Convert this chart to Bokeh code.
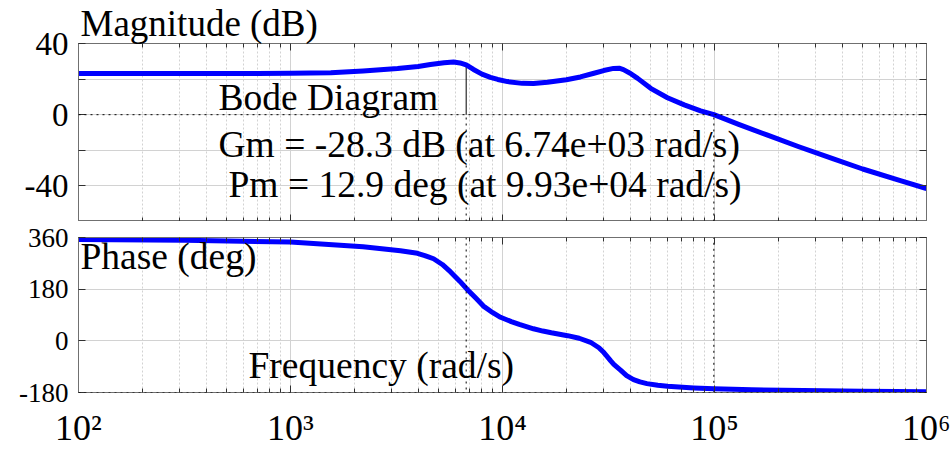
from bokeh.plotting import figure
from bokeh.models import LogAxis, LinearAxis, FixedTicker, Label, Span, Range1d
from bokeh.layouts import column
from bokeh.embed import file_html
from bokeh.resources import INLINE

# ---------------- data ----------------
mag_freq = [100, 300, 700, 1000, 1550, 2200, 3200, 4000, 4570, 5300, 5880, 6300,
            6740, 7300, 8000, 8770, 9500, 10560, 12400, 14000, 16300, 20000, 23300,
            27000, 30000, 33400, 35500, 37200, 40000, 43400, 50000, 60000, 72000,
            86000, 99300, 130000, 178000, 250000, 364000, 500000, 753000, 1000000]
mag_db = [23.2, 23.2, 23.2, 23.3, 23.6, 24.6, 25.9, 27.1, 28.2, 29.2, 29.6, 29.1,
          28.0, 25.4, 22.8, 21.0, 19.8, 18.6, 17.6, 17.5, 18.2, 19.6, 21.2,
          23.3, 24.8, 26.0, 26.1, 25.3, 23.3, 20.4, 14.8, 9.5, 5.5,
          2.2, 0.0, -5.4, -11.5, -18.0, -24.8, -30.5, -37.0, -41.5]

phase_freq = [100, 316, 1000, 2200, 3300, 3970, 4300, 4730, 5200, 5690, 6300, 6840,
              7500, 8130, 9000, 9790, 11000, 12000, 14000, 15500, 17000, 20270,
              23000, 26020, 28500, 29800, 31260, 32400, 33500, 36040, 38500, 41500,
              44500, 48000, 54000, 60000, 80000, 99300, 150000, 263000, 500000,
              1000000]
phase_deg = [353, 350, 344, 328, 314, 305, 297, 286, 266, 240, 207, 178,
             148, 121, 98, 82, 67, 57, 42, 34, 28, 18,
             9, -5, -24, -38, -56, -70, -82, -102, -121, -135,
             -143, -149, -155, -158.5, -164, -167.1, -170.5, -173, -175.5,
             -177]

x_major = [1e2, 1e3, 1e4, 1e5, 1e6]
x_labels = ["10\u00b2", "10\u00b3", "10\u2074", "10\u2075", "10\u2076"]
x_minor = [m * 10 ** e for e in range(2, 6) for m in range(2, 10)]

mag_ticks = [-60, -40, -20, 0, 20, 40]
mag_labels = ["", "-40", "", "0", "", "40"]
phase_ticks = [-180, 0, 180, 360]
phase_labels = ["-180", "0", "180", "360"]

mag_range = (-60, 40)
phase_range = (-180, 360)

gm_freq = 6740.0     # rad/s
gm_db = 28.3         # |Gm| in dB
pm_freq = 99300.0    # rad/s
pm_deg = -167.1      # phase at crossover

title_mag = "Magnitude (dB)"
title_phase = "Phase (deg)"
title_freq = "Frequency (rad/s)"
text_bode = "Bode Diagram"
text_gm = "Gm = -28.3 dB (at 6.74e+03 rad/s)"
text_pm = "Pm = 12.9 deg (at 9.93e+04 rad/s)"

# ---------------- styling ----------------
FONT = "Liberation Serif"
FRAME = "#707070"
TICK = "#303030"
GRID = "#d2d2d2"
BLUE = "#0000ff"


def style_x_axis(ax, show_labels, size="36px"):
    ax.ticker = FixedTicker(ticks=x_major, minor_ticks=x_minor)
    ax.major_tick_in = 7
    ax.major_tick_out = 0
    ax.minor_tick_in = 4
    ax.minor_tick_out = 0
    ax.major_tick_line_color = TICK
    ax.minor_tick_line_color = TICK
    ax.axis_line_color = FRAME
    if show_labels:
        ax.major_label_overrides = {t: l for t, l in zip(x_major, x_labels)}
        ax.major_label_text_font = FONT
        ax.major_label_text_font_size = size
        ax.major_label_text_color = "black"
        ax.major_label_standoff = 15
    else:
        ax.major_label_overrides = {t: "" for t in x_major}
        ax.major_label_text_font_size = "0px"
        ax.major_label_standoff = 0


def style_y_axis(ax, ticks, labels, show_labels, size):
    ax.ticker = FixedTicker(ticks=ticks)
    ax.major_tick_in = 7
    ax.major_tick_out = 0
    ax.minor_tick_line_color = None
    ax.major_tick_line_color = TICK
    ax.axis_line_color = FRAME
    if show_labels:
        ax.major_label_overrides = {t: l for t, l in zip(ticks, labels)}
        ax.major_label_text_font = FONT
        ax.major_label_text_font_size = size
        ax.major_label_text_color = "black"
        ax.major_label_standoff = 10
    else:
        ax.major_label_overrides = {t: "" for t in ticks}
        ax.major_label_text_font_size = "0px"
        ax.major_label_standoff = 0


def make_fig(height, top, bottom, yr, yticks, ylabels, ysize, xlabels, title=None):
    p = figure(width=950, height=height, x_axis_type="log",
               x_range=Range1d(x_major[0], x_major[-1]),
               y_range=Range1d(*yr), output_backend="svg", toolbar_location=None,
               min_border_left=78, min_border_right=24,
               min_border_top=top, min_border_bottom=bottom, title=title)
    p.outline_line_color = FRAME
    p.background_fill_color = "white"
    p.border_fill_color = "white"
    style_x_axis(p.below[0], xlabels)
    style_y_axis(p.left[0], yticks, ylabels, True, ysize)
    top_ax = LogAxis()
    style_x_axis(top_ax, False)
    p.add_layout(top_ax, "above")
    right_ax = LinearAxis()
    style_y_axis(right_ax, yticks, ylabels, False, ysize)
    p.add_layout(right_ax, "right")

    p.xgrid.ticker = FixedTicker(ticks=x_major, minor_ticks=x_minor)
    p.xgrid.grid_line_color = GRID
    p.xgrid.minor_grid_line_color = GRID
    p.xgrid.minor_grid_line_dash = "2 2"
    p.ygrid.ticker = FixedTicker(ticks=yticks)
    p.ygrid.grid_line_color = GRID
    return p


def add_label(p, x, y, text, size="37.5px"):
    p.add_layout(Label(x=x, y=y, x_units="screen", y_units="screen", text=text,
                       text_font=FONT, text_font_size=size, text_color="black",
                       text_baseline="alphabetic", text_align="left"))


# ---------------- magnitude panel ----------------
p1 = make_fig(221, 42, 0, mag_range, mag_ticks, mag_labels, "33px", False,
              title=title_mag)
p1.title.text_font = FONT
p1.title.text_font_size = "37px"
p1.title.text_font_style = "normal"
p1.title.text_color = "black"
p1.title.align = "left"
p1.title.offset = 2
p1.title.standoff = 0

p1.add_layout(Span(location=0, dimension="width", line_color="black",
                   line_dash="dotted", line_width=1))
p1.segment(x0=[gm_freq], y0=[mag_range[0]], x1=[gm_freq], y1=[0],
           line_color="black", line_dash="dotted", line_width=1)
p1.segment(x0=[gm_freq], y0=[0], x1=[gm_freq], y1=[gm_db],
           line_color="black", line_width=1)
p1.segment(x0=[pm_freq], y0=[mag_range[0]], x1=[pm_freq], y1=[0],
           line_color="black", line_dash="dotted", line_width=1)
p1.line(mag_freq, mag_db, line_color=BLUE, line_width=5, line_join="round")

add_label(p1, 140, 124, text_bode)
add_label(p1, 140, 77, text_gm)
add_label(p1, 150, 37, text_pm)

# ---------------- phase panel ----------------
p2 = make_fig(229, 16, 57, phase_range, phase_ticks, phase_labels, "27px", True)
p2.add_layout(Span(location=-180, dimension="width", line_color="black",
                   line_dash="dotted", line_width=1))
p2.add_layout(Span(location=gm_freq, dimension="height", line_color="black",
                   line_dash="dotted", line_width=1))
p2.segment(x0=[pm_freq], y0=[pm_deg], x1=[pm_freq], y1=[phase_range[1]],
           line_color="black", line_dash="dotted", line_width=1)
p2.segment(x0=[pm_freq], y0=[phase_range[0]], x1=[pm_freq], y1=[pm_deg],
           line_color="black", line_width=1)
p2.line(phase_freq, phase_deg, line_color=BLUE, line_width=5, line_join="round")

add_label(p2, 2, 136, title_phase)
add_label(p2, 170, 27, title_freq)

layout = column(p1, p2, spacing=0)
open("out.html", "w").write(file_html(layout, INLINE))
